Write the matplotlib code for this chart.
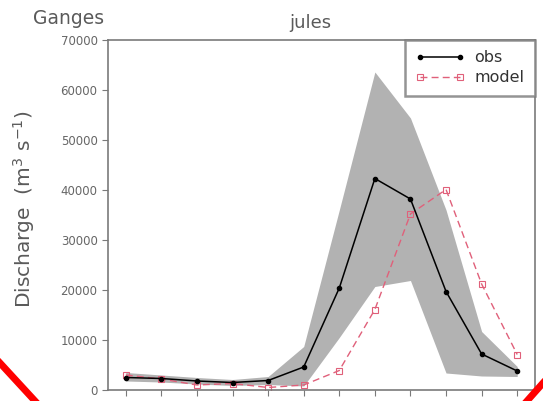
import numpy as np
import matplotlib.pyplot as plt
from matplotlib.lines import Line2D

months = [1, 2, 3, 4, 5, 6, 7, 8, 9, 10, 11, 12]
obs = [2500, 2300, 1800, 1500, 1900, 4600, 20400, 42300, 38200, 19700, 7200, 3800]
model = [3000, 2200, 1000, 1300, 500, 1000, 3900, 16100, 35200, 40100, 21200, 7100]
band_hi = [3500, 3000, 2500, 2100, 2700, 8700, 36000, 63600, 54400, 36000, 11700, 4700]
band_lo = [1800, 1600, 1200, 900, 1100, 800, 10500, 20700, 21900, 3400, 2800, 2700]
yticks = [0, 10000, 20000, 30000, 40000, 50000, 60000, 70000]

grey = '#7a7a7a'
txt = '#5a5a5a'

fig = plt.figure(figsize=(5.43, 4.01), dpi=100)
ax = fig.add_axes([108/543, 11/401, 427/543, 350/401])

ax.fill_between(months, band_lo, band_hi, color='#b2b2b2', lw=0, zorder=1)
ax.plot(months, obs, color='black', lw=1.1, marker='o', ms=3, label='obs', zorder=3)
ax.plot(months, model, color='#e0607a', lw=1.0, ls=(0, (5, 3)), marker='s', ms=4,
        mfc='none', mec='#e0607a', mew=0.8, label='model', zorder=2)

ax.set_xlim(0.5, 12.5)
ax.set_ylim(0, 70000)
ax.set_xticks(months)
ax.set_xticklabels([])
ax.set_yticks(yticks)
ax.set_yticklabels([str(v) for v in yticks], fontsize=8.5, color='#666666')
ax.tick_params(direction='out', length=4, width=0.8, color=grey)
for s in ax.spines.values():
    s.set_color(grey)
    s.set_linewidth(1.2)

ax.set_ylabel('Discharge  (m$^3$ s$^{-1}$)', fontsize=14.5, color=txt)
ax.yaxis.set_label_coords(-0.166, 0.517)

leg = ax.legend(loc='upper right', numpoints=2, handlelength=3.1, fontsize=11.5,
                frameon=True, fancybox=False, borderaxespad=0, borderpad=0.65,
                labelspacing=0.3, handletextpad=0.6)
leg.get_frame().set_edgecolor(grey)
leg.get_frame().set_linewidth(1.8)
for t in leg.get_texts():
    t.set_color('#333333')

fig.text(33/543, 1 - 18/401, 'Ganges', fontsize=13.5, color=txt, ha='left', va='center')
fig.text(310/543, 1 - 23/401, 'jules', fontsize=13, color=txt, ha='center', va='center')

# red annotation strokes
fig.add_artist(Line2D([0, 35/543], [1 - 363/401, 0], color='red', lw=5, transform=fig.transFigure))
fig.add_artist(Line2D([527/543, 1], [0, 1 - 383/401], color='red', lw=5, transform=fig.transFigure))

fig.savefig('out.png', dpi=100)
